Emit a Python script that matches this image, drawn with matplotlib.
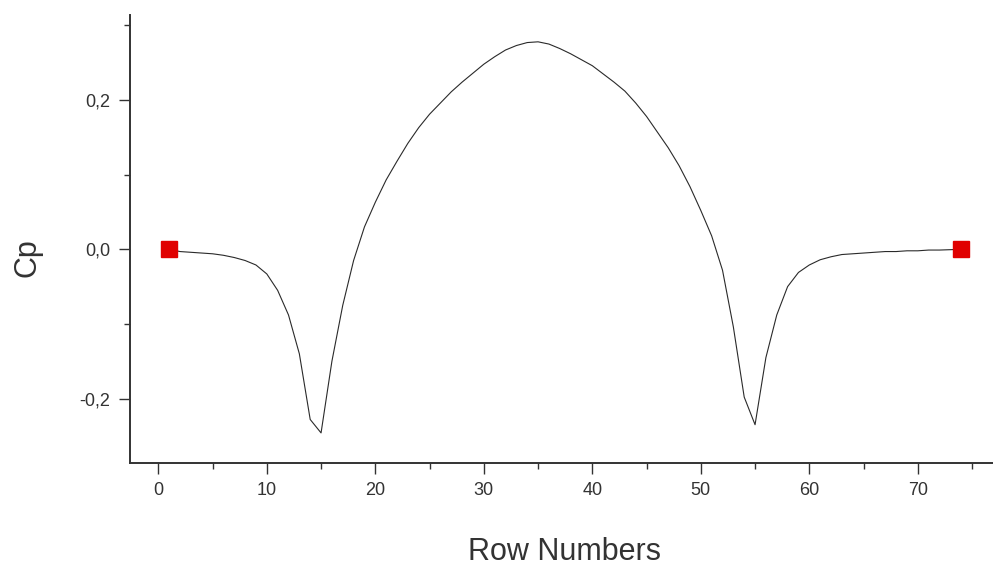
import matplotlib
matplotlib.use("Agg")
import matplotlib.pyplot as plt
from matplotlib.ticker import MultipleLocator

plt.rcParams['font.family'] = ['Liberation Sans', 'DejaVu Sans']

# Cp along the rows
rows = list(range(1, 75))
cp = [0.0, -0.003, -0.004, -0.005, -0.006, -0.008, -0.011, -0.015, -0.021, -0.033,
      -0.055, -0.088, -0.140, -0.228, -0.246, -0.150, -0.075, -0.015, 0.030, 0.063,
      0.093, 0.118, 0.142, 0.163, 0.181, 0.196, 0.211, 0.224, 0.236, 0.248,
      0.258, 0.267, 0.273, 0.277, 0.278, 0.275, 0.269, 0.262, 0.254, 0.246,
      0.235, 0.224, 0.212, 0.196, 0.178, 0.157, 0.136, 0.112, 0.084, 0.052,
      0.018, -0.028, -0.104, -0.198, -0.235, -0.145, -0.088, -0.050, -0.031, -0.021,
      -0.014, -0.010, -0.007, -0.006, -0.005, -0.004, -0.003, -0.003, -0.002, -0.002,
      -0.001, -0.001, -0.0005, 0.0]

# end points marked in red
end_rows = [1, 74]
end_cp = [0.0, 0.0]

xticks = [0, 10, 20, 30, 40, 50, 60, 70]
yticks = [-0.2, 0.0, 0.2]
ytick_labels = ['-0,2', '0,0', '0,2']

fig = plt.figure(figsize=(9.93, 5.69), dpi=100)
ax = fig.add_axes([0.1309, 0.1863, 0.8691, 0.7873])

ax.plot(rows, cp, color='#2a2a2a', lw=0.8)
ax.plot(end_rows, end_cp, 's', color='#e00000', ms=11, mec='#e00000', clip_on=False)

ax.set_xlim(-2.61, 76.93)
ax.set_ylim(-0.2863, 0.3139)

ax.set_xticks(xticks)
ax.set_yticks(yticks)
ax.set_yticklabels(ytick_labels)
ax.xaxis.set_minor_locator(MultipleLocator(5))
ax.yaxis.set_minor_locator(MultipleLocator(0.1))

for s in ['top', 'right']:
  ax.spines[s].set_visible(False)
for s in ['left', 'bottom']:
  ax.spines[s].set_linewidth(1.4)
  ax.spines[s].set_color('#333333')

ax.tick_params(which='major', direction='out', length=8, width=1.0, color='#333333',
               labelsize=13, labelcolor='#333333', pad=6)
ax.tick_params(which='minor', direction='out', length=4.5, width=1.0, color='#333333')

ax.set_xlabel('Row Numbers', fontsize=22, color='#333333', va='center')
ax.xaxis.set_label_coords(0.504, -0.199)
ax.set_ylabel('Cp', fontsize=22, color='#333333', va='center', ha='center')
ax.yaxis.set_label_coords(-0.119, 0.458)

fig.savefig('out.png', dpi=100)
